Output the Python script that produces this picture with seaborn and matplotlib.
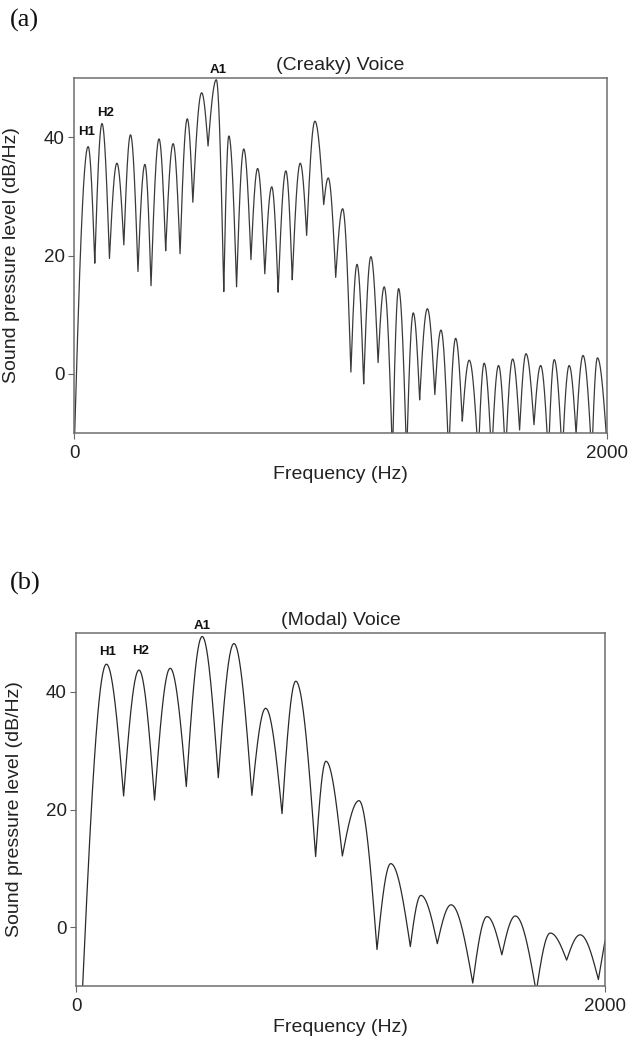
import numpy as np
import pandas as pd
import matplotlib
matplotlib.use("Agg")
import matplotlib.pyplot as plt
import seaborn as sns

# ---------------- data ----------------
# Panel (a): creaky voice - harmonic peaks and the troughs between them
creaky_peak_hz = [53, 105, 161, 212, 266, 319, 372, 425, 479, 534, 581, 637, 689,
                  742, 795, 849, 904, 954, 1008, 1062, 1114, 1164, 1218, 1273, 1326,
                  1377, 1432, 1483, 1539, 1593, 1646, 1696, 1751, 1802, 1858, 1910, 1964]
creaky_peak_db = [38.4, 42.3, 35.6, 40.4, 35.4, 39.7, 38.9, 43.1, 47.5, 49.7, 40.2, 38.0, 34.7,
                  31.6, 34.3, 35.6, 42.7, 33.1, 27.9, 18.5, 19.8, 14.7, 14.4, 10.3, 11.0,
                  7.4, 6.0, 2.3, 1.8, 1.4, 2.5, 3.4, 1.4, 2.4, 1.4, 3.1, 2.7]
creaky_trough_hz = [0, 78, 133, 187, 240, 289, 344, 398, 446, 503, 562, 610, 664, 716,
                    766, 819, 873, 937, 982, 1039, 1087, 1141, 1195, 1248, 1297, 1354,
                    1406, 1457, 1517, 1567, 1619, 1672, 1726, 1780, 1832, 1884, 1943, 2000]
creaky_trough_db = [-14, 18.7, 19.5, 21.8, 17.3, 14.9, 20.8, 20.3, 29.0, 38.5, 13.9, 14.7,
                    19.3, 16.9, 13.8, 15.9, 23.4, 28.6, 16.3, 0.3, -1.7, 1.9, -14, -14,
                    -4.4, -3.5, -14, -8.0, -14, -14, -14, -9.5, -8.6, -14, -14, -10.2, -14, -12]

# Panel (b): modal voice
modal_peak_hz = [115, 238, 356, 477, 597, 717, 831, 945, 1070, 1190, 1304, 1418,
                 1554, 1661, 1793, 1906]
modal_peak_db = [44.7, 43.7, 44.0, 49.4, 48.2, 37.2, 41.8, 28.2, 21.5, 10.8, 5.4, 3.8,
                 1.8, 1.9, -1.0, -1.3]
modal_trough_hz = [22, 180, 297, 417, 538, 665, 779, 906, 1007, 1138, 1264, 1366,
                   1500, 1610, 1740, 1855, 1975, 2000]
modal_trough_db = [-13, 22.3, 21.6, 23.9, 25.4, 22.4, 19.3, 12.0, 12.1, -3.8, -3.3, -2.8,
                   -9.5, -4.7, -11, -5.6, -8.9, -2.3]

x_ticks = [0, 2000]
y_ticks = [0, 20, 40]
titles = ["(Creaky) Voice", "(Modal) Voice"]
panel_tags = ["(a)", "(b)"]
x_label = "Frequency (Hz)"
y_label = "Sound pressure level (dB/Hz)"
creaky_labels = [("H1", 47, 40.8), ("H2", 118, 44.0), ("A1", 542, 51.3)]
modal_labels = [("H1", 121, 46.7), ("H2", 244, 46.9), ("A1", 478, 51.2)]


def spectrum_curve(peak_hz, peak_db, trough_hz, trough_db, n=40):
    """Join alternating trough/peak extrema: rounded tops, cusp-like troughs."""
    nodes = []
    for i in range(len(peak_hz)):
        nodes.append((trough_hz[i], trough_db[i], "t"))
        nodes.append((peak_hz[i], peak_db[i], "p"))
    for j in range(len(peak_hz), len(trough_hz)):
        nodes.append((trough_hz[j], trough_db[j], "t"))
    fs, ds = [], []
    for (f0, d0, k0), (f1, d1, k1) in zip(nodes[:-1], nodes[1:]):
        t = np.linspace(0, 1, n, endpoint=False)
        if k0 == "t" and k1 == "p":
            s = np.sin(np.pi / 2 * t)
        elif k0 == "p" and k1 == "t":
            s = 1 - np.cos(np.pi / 2 * t)
        else:
            s = t
        fs.append(f0 + (f1 - f0) * t)
        ds.append(d0 + (d1 - d0) * s)
    fs.append([nodes[-1][0]])
    ds.append([nodes[-1][1]])
    return pd.DataFrame({"freq": np.concatenate(fs), "db": np.concatenate(ds)})


sns.set_theme(style="white")
plt.rcParams["font.family"] = ["Liberation Sans", "DejaVu Sans"]

fig = plt.figure(figsize=(6.29, 10.38), dpi=100)
W, H = 629, 1038
axes_px = [(74, 78, 607, 433), (76, 633, 605, 986)]
datasets = [
    spectrum_curve(creaky_peak_hz, creaky_peak_db, creaky_trough_hz, creaky_trough_db),
    spectrum_curve(modal_peak_hz, modal_peak_db, modal_trough_hz, modal_trough_db),
]
labels_all = [creaky_labels, modal_labels]
tag_y = [20, 583]
line_colors = ["#3a3a3a", "#2a2a2a"]

for k in range(2):
    l, t, r, b = axes_px[k]
    ax = fig.add_axes([l / W, 1 - b / H, (r - l) / W, (b - t) / H])
    sns.lineplot(data=datasets[k], x="freq", y="db", ax=ax, sort=False,
                 estimator=None, color=line_colors[k], linewidth=0.9)
    ax.set_xlim(0, 2000)
    ax.set_ylim(-10, 50)
    ax.set_xticks(x_ticks)
    ax.set_yticks(y_ticks)
    ax.tick_params(axis="both", direction="out", length=4.5, width=0.8,
                   color="#666666", labelsize=13.5, labelcolor="#222222",
                   bottom=True, left=True)
    ax.tick_params(axis="x", pad=4)
    ax.tick_params(axis="y", pad=2)
    for sp in ax.spines.values():
        sp.set_color("#6e6e6e")
        sp.set_linewidth(1.1)
    ax.set_title(titles[k], fontsize=14, color="#222222", pad=6)
    ax.set_xlabel(x_label, fontsize=14, color="#222222")
    ax.set_ylabel(y_label, fontsize=14, color="#222222")
    ax.xaxis.set_label_coords(0.5, -0.094)
    ax.yaxis.set_label_coords(-0.101, 0.5)
    for txt, fx, fy in labels_all[k]:
        ax.text(fx, fy, txt, fontsize=9.5, fontweight="bold", ha="center",
                va="center", color="#111111", clip_on=False)
    fig.text(10 / W, 1 - tag_y[k] / H, panel_tags[k], fontsize=19,
             family=["Liberation Serif", "DejaVu Serif"], ha="left", va="center",
             color="#111111")

fig.savefig("out.png", dpi=100)
